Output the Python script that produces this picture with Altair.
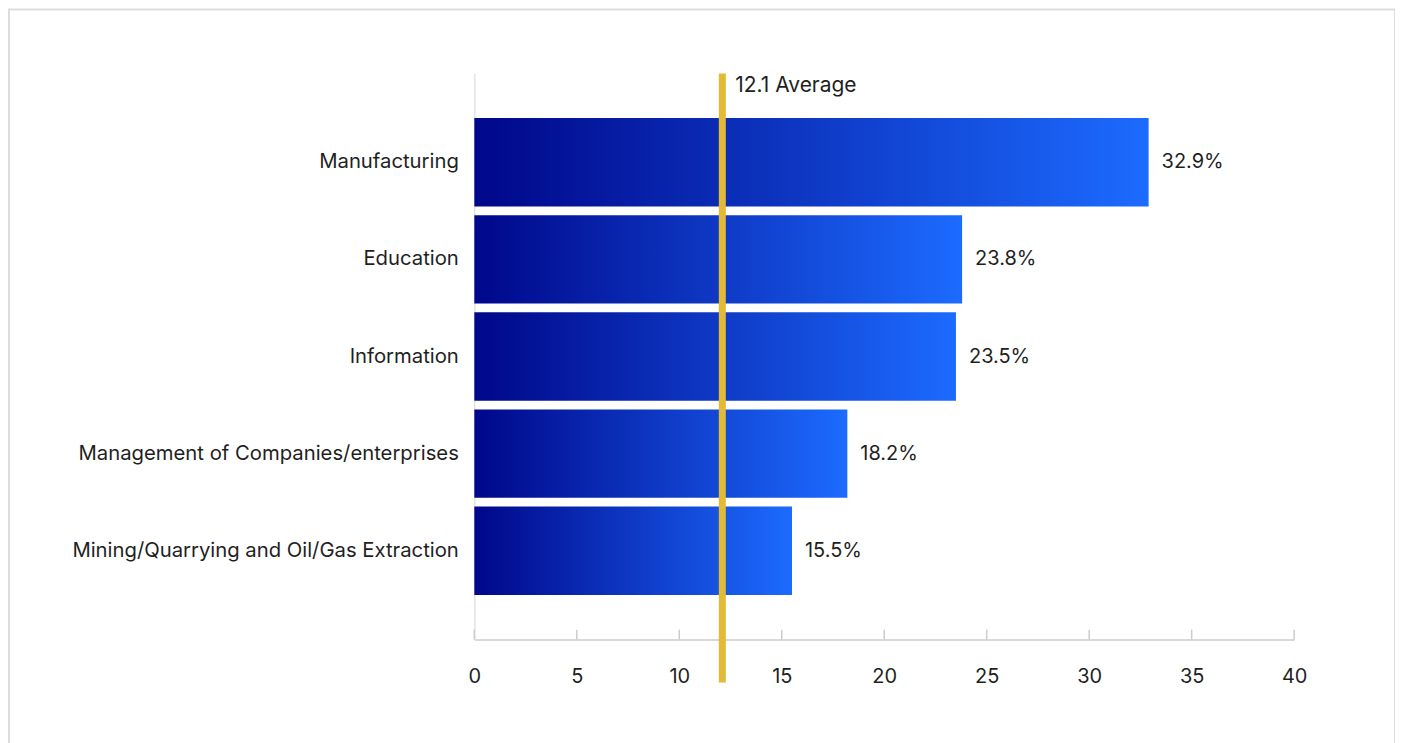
import altair as alt
import pandas as pd

industries = [
    "Manufacturing",
    "Education",
    "Information",
    "Management of Companies/enterprises",
    "Mining/Quarrying and Oil/Gas Extraction",
]
values = [32.9, 23.8, 23.5, 18.2, 15.5]
average = 12.1
average_label = "12.1 Average"
x_ticks = [0, 5, 10, 15, 20, 25, 30, 35, 40]

df = pd.DataFrame({"industry": industries, "value": values})
avg_df = pd.DataFrame({"avg": [average], "label": [average_label]})
frame_df = pd.DataFrame({"k": [0]})
tick_df = pd.DataFrame({"t": x_ticks})

FONT = "Inter"
TXT = "#1f1f1f"

xscale = alt.Scale(domain=[0, 40], nice=False)

gradient = alt.Gradient(
    gradient="linear",
    stops=[
        alt.GradientStop(color="#00078a", offset=0),
        alt.GradientStop(color="#1c6bff", offset=1),
    ],
    x1=0, x2=1, y1=0, y2=0,
)

frame = alt.Chart(frame_df).mark_rect(
    fillOpacity=0, stroke="#dddddd", strokeWidth=2, clip=False
).encode(
    x=alt.value(-466), x2=alt.value(922), y=alt.value(-64), y2=alt.value(700)
)

bars = alt.Chart(df).mark_bar(color=gradient).encode(
    x=alt.X(
        "value:Q", scale=xscale,
        axis=alt.Axis(
            title=None, grid=False, ticks=False, values=x_ticks, labelFlush=False,
            domainColor="#cccccc", domainWidth=1.5,
            labelFont=FONT, labelFontSize=20, labelColor=TXT, labelPadding=27,
        ),
    ),
    y=alt.Y(
        "industry:N",
        sort=industries,
        scale=alt.Scale(paddingInner=0.09, paddingOuter=0.46),
        axis=alt.Axis(
            title=None, ticks=False, domainColor="#e3e3e3", domainWidth=1.5,
            labelFont=FONT, labelFontSize=20.3, labelColor=TXT, labelPadding=16,
            labelLimit=500,
        ),
    ),
)

ticks = alt.Chart(tick_df).mark_rule(color="#cccccc", strokeWidth=1.5).encode(
    x=alt.X("t:Q", scale=xscale),
    y=alt.value(557), y2=alt.value(567),
)

labels = alt.Chart(df).transform_calculate(
    lab="format(datum.value, '.1f') + '%'"
).mark_text(
    align="left", baseline="middle", dx=13, font=FONT, fontSize=20, color=TXT
).encode(
    x=alt.X("value:Q", scale=xscale),
    y=alt.Y("industry:N", sort=industries),
    text="lab:N",
)

avg_rule = alt.Chart(avg_df).mark_rule(
    color="#e2ba35", strokeWidth=7, clip=False
).encode(
    x=alt.X("avg:Q", scale=xscale),
    y=alt.value(0), y2=alt.value(610),
)

avg_text = alt.Chart(avg_df).mark_text(
    align="left", baseline="middle", dx=13, font=FONT, fontSize=21, color=TXT
).encode(
    x=alt.X("avg:Q", scale=xscale),
    y=alt.value(13),
    text="label:N",
)

chart = alt.layer(frame, bars, ticks, labels, avg_rule, avg_text).properties(
    width=821, height=567,
    padding={"left": 467, "top": 65, "right": 101, "bottom": 105},
    autosize=alt.AutoSizeParams(type="none"),
).configure_view(stroke=None)

chart.save("out.html", embed_options={"renderer": "svg", "actions": False})
